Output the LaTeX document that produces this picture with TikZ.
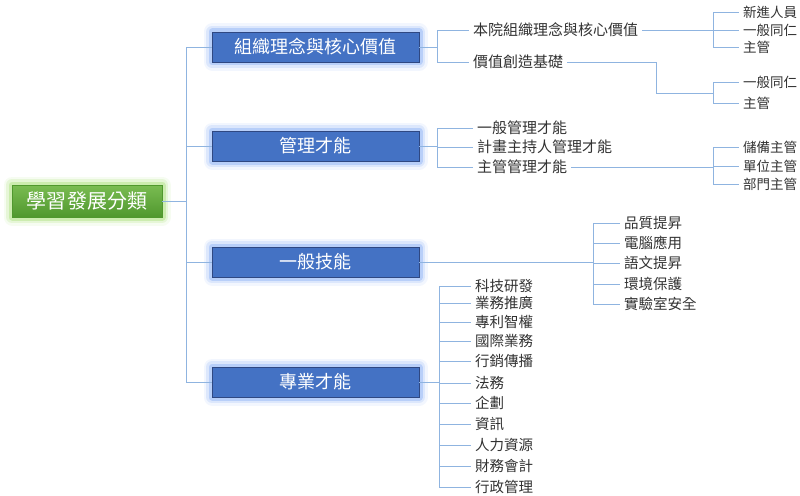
\documentclass[tikz,border=0pt]{standalone}
\usepackage{fontspec}
\setmainfont{Noto Sans CJK TC}
\definecolor{linkc}{RGB}{143,180,224}
\definecolor{catfill}{RGB}{68,114,196}
\definecolor{catedge}{RGB}{47,72,130}
\definecolor{catglow}{RGB}{130,170,245}
\definecolor{rootglow}{RGB}{165,222,115}
\definecolor{roottop}{RGB}{122,188,82}
\definecolor{rootbot}{RGB}{80,152,46}
\definecolor{leafc}{RGB}{50,50,50}
\begin{document}
\begin{tikzpicture}[x=1pt,y=-1pt,
  link/.style={draw=linkc, line width=0.8pt},
  glow/.style={preaction={draw=#1, line width=17pt, opacity=0.10, line join=round},
               preaction={draw=#1, line width=12pt, opacity=0.20, line join=round},
               preaction={draw=#1, line width=7pt, opacity=0.40, line join=round}},
  catbox/.style={glow=catglow, draw=catedge, fill=catfill, text=white, line width=0.8pt,
                 minimum width=207pt, minimum height=30pt, inner sep=0pt, font=\fontsize{18}{20}\selectfont},
  rootbox/.style={glow=rootglow, draw=rootbot, top color=roottop, bottom color=rootbot, text=white,
                  minimum width=150pt, minimum height=32pt, inner sep=0pt, font=\fontsize{20}{22}\selectfont},
  leaf/.style={anchor=west, text=leafc, inner xsep=4pt, inner ysep=1pt, font=\fontsize{14.5}{16}\selectfont},
  leafb/.style={leaf, font=\fontsize{15}{17}\selectfont},
  leafc/.style={leaf, font=\fontsize{13.5}{15}\selectfont}]
\useasboundingbox (0,0) rectangle (800,495);
\node[rootbox] (root) at (87,201) {學習發展分類};
\node[catbox] (cat1) at (315.5,47) {組織理念與核心價值};
\node[catbox] (cat2) at (315.5,146) {管理才能};
\node[catbox] (cat3) at (315.5,262) {一般技能};
\node[catbox] (cat4) at (315.5,382) {專業才能};
\foreach \i in {1,...,4}
  \draw[link] (root.east) -- ++(24,0) |- (cat\i.west);
\node[leafb] (c1a) at (469,30) {本院組織理念與核心價值};
\node[leafb] (c1b) at (469,62) {價值創造基礎};
\draw[link] (cat1.east) -- ++(18,0) |- (c1a.west);
\draw[link] (cat1.east) -- ++(18,0) |- (c1b.west);
\node[leafc] (c1a1) at (739,12) {新進人員};
\node[leafc] (c1a2) at (739,30) {一般同仁};
\node[leafc] (c1a3) at (739,47) {主管};
\coordinate (j1) at (713,30);
\draw[link] (c1a.east) -- (j1);
\foreach \i in {1,2,3}
  \draw[link] (j1) |- (c1a\i.west);
\node[leafc] (c1b1) at (739,82) {一般同仁};
\node[leafc] (c1b2) at (739,103) {主管};
\coordinate (k1) at (656,62);
\coordinate (j2) at (713,93);
\draw[link] (c1b.east) -- (k1) |- (j2);
\draw[link] (j2) |- (c1b1.west);
\draw[link] (j2) |- (c1b2.west);
\node[leafb] (c2a) at (473,128) {一般管理才能};
\node[leafb] (c2b) at (473,147) {計畫主持人管理才能};
\node[leafb] (c2c) at (473,167) {主管管理才能};
\foreach \n in {c2a,c2b,c2c}
  \draw[link] (cat2.east) -- ++(18,0) |- (\n.west);
\node[leafc] (c2c1) at (739,147) {儲備主管};
\node[leafc] (c2c2) at (739,166) {單位主管};
\node[leafc] (c2c3) at (739,184) {部門主管};
\coordinate (j3) at (713,167);
\draw[link] (c2c.east) -- (j3);
\foreach \i in {1,2,3}
  \draw[link] (j3) |- (c2c\i.west);
\foreach \y/\t [count=\i] in {223/品質提昇,243/電腦應用,263/語文提昇,284/環境保護,304/實驗室安全}
  \node[leaf] (g\i) at (620,\y) {\t};
\coordinate (j4) at (593,262);
\draw[link] (cat3.east) -- (j4);
\foreach \i in {1,...,5}
  \draw[link] (j4) |- (g\i.west);
\foreach \y/\t [count=\i] in {286/科技研發,303/業務推廣,322/專利智權,341/國際業務,361/行銷傳播,383/法務,
    403/企劃,424/資訊,445/人力資源,466/財務會計,487/行政管理}
  \node[leaf] (p\i) at (471,\y) {\t};
\foreach \i in {1,...,11}
  \draw[link] (cat4.east) -- ++(20,0) |- (p\i.west);
\end{tikzpicture}
\end{document}
